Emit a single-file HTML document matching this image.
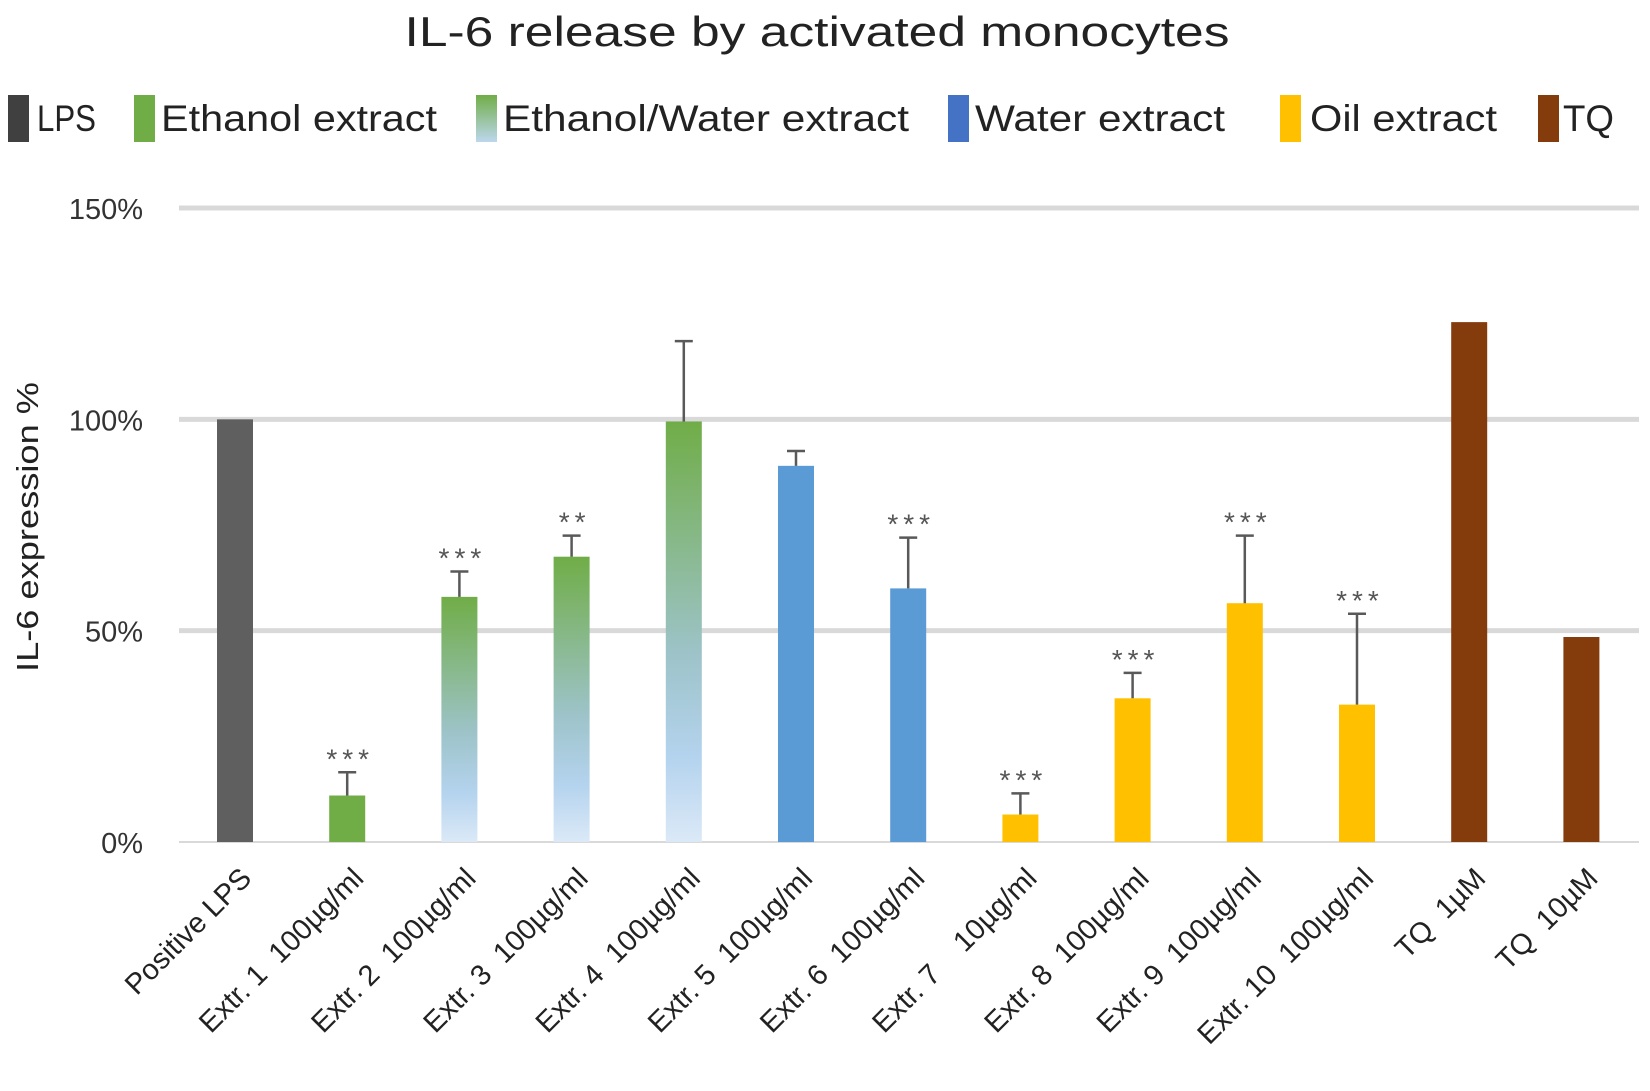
<!DOCTYPE html>
<html><head><meta charset="utf-8"><style>
html,body{margin:0;padding:0;background:#fff;}
svg{display:block;font-family:"Liberation Sans",sans-serif;}
</style></head><body>
<svg id="chart" width="1650" height="1091" viewBox="0 0 1650 1091" xmlns="http://www.w3.org/2000/svg">
<defs>
<linearGradient id="ewGrad" x1="0" y1="0" x2="0" y2="1">
<stop offset="0" stop-color="#70ad47"/><stop offset="0.55" stop-color="#9dc3c8"/><stop offset="0.8" stop-color="#b4d3ee"/><stop offset="1" stop-color="#dbe9f7"/>
</linearGradient>
<linearGradient id="ewLeg" x1="0" y1="0" x2="0" y2="1">
<stop offset="0" stop-color="#70ad47"/><stop offset="1" stop-color="#bdd7ee"/>
</linearGradient>
</defs>
<text x="817" y="46" font-size="42" text-anchor="middle" fill="#222" textLength="825" lengthAdjust="spacingAndGlyphs">IL-6 release by activated monocytes</text>
<g id="legend"></g>
<g id="grid"></g>
<g id="bars"></g>
<g id="xlabels"></g>
<text transform="translate(38,527) rotate(-90)" font-size="31" text-anchor="middle" fill="#222" textLength="290" lengthAdjust="spacingAndGlyphs">IL-6 expression %</text>
</svg>
<script>
const categories = ["Positive LPS","Extr. 1  100µg/ml","Extr. 2  100µg/ml","Extr. 3  100µg/ml","Extr. 4  100µg/ml","Extr. 5  100µg/ml","Extr. 6  100µg/ml","Extr. 7    10µg/ml","Extr. 8  100µg/ml","Extr. 9  100µg/ml","Extr. 10  100µg/ml","TQ  1µM","TQ  10µM"];
const values = [100, 11, 58, 67.5, 99.5, 89, 60, 6.5, 34, 56.5, 32.5, 123, 48.5];
const errorTops = [null, 16.5, 64, 72.5, 118.5, 92.5, 72, 11.5, 40, 72.5, 54, null, null];
const stars = ["", "***", "***", "**", "", "", "***", "***", "***", "***", "***", "", ""];
const groups = ["lps","eth","ew","ew","ew","water","water","oil","oil","oil","oil","tq","tq"];
const yTicks = [0, 50, 100, 150];
const yTickLabels = ["0%","50%","100%","150%"];
const legendLabels = ["LPS","Ethanol extract","Ethanol/Water extract","Water extract","Oil extract","TQ"];
const legendGroups = ["lps","eth","ew","water","oil","tq"];

const fills = {lps:"#5f5f5f", eth:"#70ad47", ew:"url(#ewGrad)", water:"#5b9bd5", oil:"#ffc000", tq:"#843c0c"};
const legFills = {lps:"#404040", eth:"#70ad47", ew:"url(#ewLeg)", water:"#4472c4", oil:"#ffc000", tq:"#843c0c"};
const NS = "http://www.w3.org/2000/svg";
const x0 = 179, x1 = 1639, y0 = 842, yTop = 208;
const yScale = v => y0 - (v/150)*(y0 - yTop);
const step = 112.2;
const xScale = i => 235 + step*i;
const bw = 36;
function mk(tag, parent){ const e=document.createElementNS(NS,tag); parent.appendChild(e); return e; }

const grid = document.getElementById('grid');
yTicks.forEach((t,i)=>{
  const l = mk('line',grid);
  
  
  l.setAttribute('x1',x0); l.setAttribute('x2',x1);
  l.setAttribute('y1',yScale(t)); l.setAttribute('y2',yScale(t));
  l.setAttribute('stroke','#d9d9d9'); l.setAttribute('stroke-width', t===0?2:5);
  const tx = mk('text',grid);
  
  
  tx.setAttribute('x',143); tx.setAttribute('y',yScale(t)+11);
  tx.setAttribute('text-anchor','end'); tx.setAttribute('font-size','29'); tx.setAttribute('fill','#333');
  tx.textContent = yTickLabels[i];
});

const bars = document.getElementById('bars');
values.forEach((v,i)=>{
  const cx = xScale(i);
  const r = mk('rect',bars);
  
  
  r.setAttribute('x',cx-bw/2); r.setAttribute('width',bw);
  r.setAttribute('y',yScale(v)); r.setAttribute('height',y0-yScale(v));
  r.setAttribute('fill',fills[groups[i]]);
  let topY = yScale(v);
  if(errorTops[i]!==null){
    const e = yScale(errorTops[i]);
    const p = mk('path',bars);
    
    
    p.setAttribute('d',`M${cx} ${yScale(v)}V${e}M${cx-9} ${e}H${cx+9}`);
    p.setAttribute('stroke','#595959'); p.setAttribute('stroke-width','2.5'); p.setAttribute('fill','none');
    topY = e;
  }
  if(stars[i]){
    const s = mk('text',bars);
    
    
    s.setAttribute('x',cx+3); s.setAttribute('y',topY-4);
    s.setAttribute('text-anchor','middle'); s.setAttribute('font-size','28'); s.setAttribute('fill','#555');
    s.setAttribute('letter-spacing','5');
    s.textContent = stars[i];
  }
  const lab = mk('text',document.getElementById('xlabels'));
  
  
  lab.setAttribute('transform',`translate(${cx+18},${y0+38}) rotate(-45)`);
  lab.setAttribute('text-anchor','end'); lab.setAttribute('font-size','29'); lab.setAttribute('fill','#222');
  lab.setAttribute('xml:space','preserve'); lab.style.whiteSpace='pre';
  lab.textContent = categories[i];
});

const leg = document.getElementById('legend');
const legSq = [8,134,476,948,1280,1538];
const legTx = [37,161,503,975,1310,1563];
const legW = [59,276,406,250,187,51];
legendLabels.forEach((t,i)=>{
  const r = mk('rect',leg);
  
  
  r.setAttribute('x',legSq[i]); r.setAttribute('y',95); r.setAttribute('width',21); r.setAttribute('height',47);
  r.setAttribute('fill',legFills[legendGroups[i]]);
  const tx = mk('text',leg);
  
  
  tx.setAttribute('x',legTx[i]); tx.setAttribute('y',131);
  tx.setAttribute('font-size','37'); tx.setAttribute('fill','#222');
  tx.setAttribute('textLength',legW[i]); tx.setAttribute('lengthAdjust','spacingAndGlyphs');
  tx.textContent = t;
});
</script>
</body></html>
